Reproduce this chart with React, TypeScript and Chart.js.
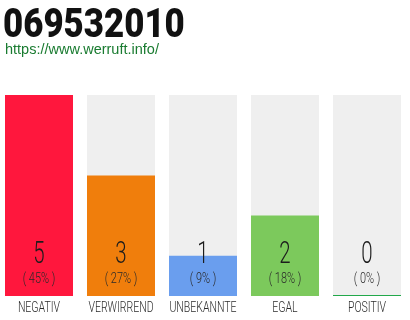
import React, { useEffect, useRef } from "react";
import { Chart, registerables } from "chart.js";

Chart.register(...registerables);

const phoneNumber = "069532010";
const siteUrl = "https://www.werruft.info/";
const categories = ["NEGATIV", "VERWIRREND", "UNBEKANNTE", "EGAL", "POSITIV"];
const counts = [5, 3, 1, 2, 0];
const percents = [45, 27, 9, 18, 0];
const barColors = ["#ff173d", "#f07e0c", "#6a9eee", "#7cc95c", "#22a84a"];
const trackMax = 5;

function drawNarrow(
  ctx: CanvasRenderingContext2D,
  text: string,
  x: number,
  y: number,
  font: string,
  scaleX: number,
  color: string
) {
  ctx.save();
  ctx.font = font;
  ctx.fillStyle = color;
  ctx.textAlign = "center";
  ctx.textBaseline = "alphabetic";
  ctx.translate(x, y);
  ctx.scale(scaleX, 1);
  ctx.fillText(text, 0, 0);
  ctx.restore();
}

const ratingLabels = {
  id: "ratingLabels",
  afterDatasetsDraw(chart: Chart) {
    const ctx = chart.ctx;
    const meta = chart.getDatasetMeta(0);
    meta.data.forEach((bar: any, i: number) => {
      const x = bar.x;
      drawNarrow(ctx, String(counts[i]), x, 263, "300 31px Roboto", 0.66, "#1c1c1c");
      drawNarrow(ctx, `( ${percents[i]}% )`, x, 283, "300 14px Roboto", 0.78, "#2a2a2a");
      drawNarrow(ctx, categories[i], x, 312, "300 15.5px Roboto", 0.68, "#2b2b2b");
    });
  },
};

export default function App() {
  const canvasRef = useRef<HTMLCanvasElement | null>(null);

  useEffect(() => {
    if (!canvasRef.current) return;
    const chart = new Chart(canvasRef.current, {
      type: "bar",
      data: {
        labels: categories,
        datasets: [
          {
            data: counts,
            backgroundColor: barColors,
            minBarLength: 1,
            order: 0,
            grouped: false,
            barPercentage: 68 / 82,
            categoryPercentage: 1,
          } as any,
          {
            data: categories.map(() => trackMax),
            backgroundColor: "#efefef",
            order: 1,
            grouped: false,
            barPercentage: 68 / 82,
            categoryPercentage: 1,
          } as any,
        ],
      },
      options: {
        responsive: false,
        animation: false,
        layout: { padding: { top: 95, bottom: 24, left: 0, right: 0 } },
        plugins: { legend: { display: false }, tooltip: { enabled: false } },
        scales: {
          x: { display: false },
          y: { display: false, min: 0, max: trackMax },
        },
      },
      plugins: [ratingLabels],
    });
    return () => chart.destroy();
  }, []);

  return (
    <div style={{ position: "fixed", left: 0, top: 0, width: 410, height: 320, background: "#fff", overflow: "hidden" }}>
      <canvas ref={canvasRef} width={410} height={320} style={{ position: "absolute", left: -2, top: 0 }} />
      <div
        style={{
          position: "absolute",
          left: 3,
          top: 2.5,
          fontFamily: "Roboto",
          fontWeight: 900,
          fontSize: 41,
          lineHeight: 1,
          color: "#111",
          whiteSpace: "nowrap",
          transform: "scaleX(0.85)",
          transformOrigin: "0 0",
        }}
      >
        {phoneNumber}
      </div>
      <div
        style={{
          position: "absolute",
          left: 5,
          top: 41.7,
          fontFamily: "'Liberation Sans', Arial, sans-serif",
          fontSize: 14.5,
          lineHeight: 1,
          color: "#197b30",
          whiteSpace: "nowrap",
        }}
      >
        {siteUrl}
      </div>
    </div>
  );
}
